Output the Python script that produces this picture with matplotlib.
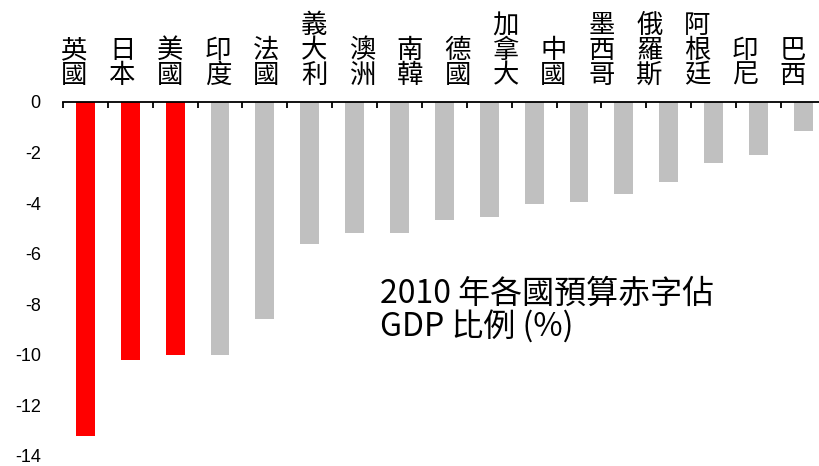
import matplotlib
matplotlib.use("Agg")
import matplotlib.pyplot as plt
import numpy as np

plt.rcParams['axes.unicode_minus'] = False

labels = ["英國", "日本", "美國", "印度", "法國", "義大利", "澳洲", "南韓",
          "德國", "加拿大", "中國", "墨西哥", "俄羅斯", "阿根廷", "印尼", "巴西"]
values = [-13.2, -10.2, -10.0, -10.0, -8.6, -5.6, -5.2, -5.2,
          -4.65, -4.55, -4.05, -3.95, -3.65, -3.15, -2.4, -2.1, -1.15]
highlight = [True, True, True] + [False] * 14
yticks = [0, -2, -4, -6, -8, -10, -12, -14]
ytick_labels = ["0", "-2", "-4", "-6", "-8", "-10", "-12", "-14"]
title_text = "2010 年各國預算赤字佔\nGDP 比例 (%)"

W, H = 819, 466
fig = plt.figure(figsize=(W / 100, H / 100), dpi=100)
ax = fig.add_axes([63 / W, 0, (W - 63) / W, 1 - 102 / H])

x = np.arange(len(values))
colors = ["#FF0000" if h else "#C0C0C0" for h in highlight]
ax.bar(x, values, width=0.42, color=colors)

ax.set_xlim(-0.5, 16.35)
ax.set_ylim(-14.4, 0)

for s in ["left", "right", "bottom"]:
    ax.spines[s].set_visible(False)
ax.spines["top"].set_linewidth(1.3)

ax.xaxis.set_ticks_position("top")
ax.set_xticks(np.arange(-0.5, len(values) - 1, 1.0))
ax.tick_params(axis="x", direction="in", length=4, width=1.3, labeltop=False, labelbottom=False)

ax.set_yticks(yticks)
ax.set_yticklabels(ytick_labels, fontsize=13, family="Liberation Sans")
ax.tick_params(axis="y", length=0, pad=16)

for i, lab in enumerate(labels):
    xp = (74.5 + 47.9 * i) / W
    fig.text(xp, 1 - 89 / H, "\n".join(lab), ha="center", va="bottom",
             fontsize=19, family=["Noto Sans CJK TC", "DejaVu Sans"],
             linespacing=0.9)

fig.text(380 / W, 1 - 278 / H, title_text, ha="left", va="top",
         fontsize=23, family=["Noto Sans CJK TC", "DejaVu Sans"],
         linespacing=1.02)

fig.savefig("out.png", dpi=100)
